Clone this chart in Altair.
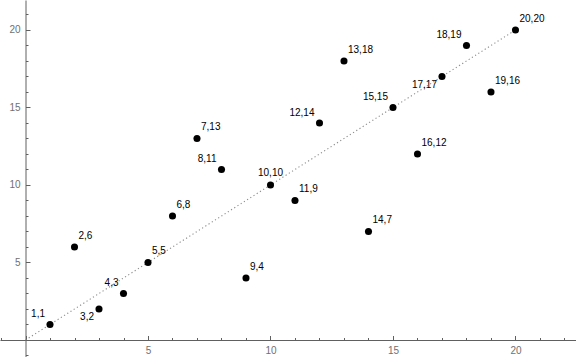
import altair as alt
import pandas as pd

# data
xs = [1, 2, 3, 4, 5, 6, 7, 8, 9, 10, 11, 12, 13, 14, 15, 16, 17, 18, 19, 20]
ys = [1, 6, 2, 3, 5, 8, 13, 11, 4, 10, 9, 14, 18, 7, 15, 12, 17, 19, 16, 20]
fit_x = [0, 20]
fit_y = [0, 20]
x_ticks = list(range(-1, 23))
y_ticks = list(range(-1, 22))

# label placement around each point (layout)
placement = {
    "1,1": "nw", "2,6": "ne", "3,2": "sw", "4,3": "nw", "5,5": "ne",
    "6,8": "ne", "7,13": "ne", "8,11": "nw", "9,4": "ne", "10,10": "n",
    "11,9": "ne", "12,14": "nw", "13,18": "ne", "14,7": "ne", "15,15": "nw",
    "16,12": "ne", "17,17": "sw", "18,19": "nw", "19,16": "ne", "20,20": "ne",
}

df = pd.DataFrame({"x": xs, "y": ys})
df["label"] = [f"{a},{b}" for a, b in zip(xs, ys)]
df["place"] = df["label"].map(placement)
fit = pd.DataFrame({"x": fit_x, "y": fit_y})

W, H = 576, 357
xdom = [-1.041, 22.47]
ydom = [-1.097, 21.935]

tick_cond = {"condition": {"test": "datum.value % 5 === 0", "value": 4.5}, "value": 2.5}
lab_col = "#707070"
ax_col = "#606060"

x_axis = alt.Axis(
    orient="top", offset=-340, values=x_ticks, title=None, grid=False,
    labelExpr="datum.value % 5 === 0 && datum.value > 0 ? datum.label : ''",
    tickSize=tick_cond, tickColor=ax_col, domainColor=ax_col,
    labelBaseline="top", labelPadding=-9.5, labelFont="Liberation Sans",
    labelFontSize=10, labelColor=lab_col, labelOverlap=False, labelFlush=False,
)
y_axis = alt.Axis(
    orient="right", offset=-550.5, values=y_ticks, title=None, grid=False,
    labelExpr="datum.value % 5 === 0 && datum.value > 0 ? datum.label : ''",
    tickSize=tick_cond, tickColor=ax_col, domainColor=ax_col,
    labelAlign="right", labelBaseline="middle", labelPadding=-10,
    labelFont="Liberation Sans", labelFontSize=10, labelColor=lab_col,
    labelOverlap=False, labelFlush=False,
)

X = alt.X("x:Q", scale=alt.Scale(domain=xdom, nice=False, zero=False), axis=x_axis)
Y = alt.Y("y:Q", scale=alt.Scale(domain=ydom, nice=False, zero=False), axis=y_axis)

line = alt.Chart(fit).mark_line(
    color="#8c8c8c", strokeDash=[1.2, 2.6], strokeWidth=1.1
).encode(x=X, y=Y)

points = alt.Chart(df).mark_circle(color="black", opacity=1, size=50).encode(x=X, y=Y)

def labels(place, align, dx, dy):
    return alt.Chart(df).transform_filter(
        alt.datum.place == place
    ).mark_text(
        align=align, baseline="middle", dx=dx, dy=dy,
        font="Liberation Sans", fontSize=10, color="black"
    ).encode(x=X, y=Y, text="label:N")

chart = alt.layer(
    line, points,
    labels("ne", "left", 4, -11),
    labels("nw", "right", -5, -10),
    labels("sw", "right", -5, 8.5),
    labels("n", "center", 0, -12),
).properties(
    width=W, height=H, padding=0, autosize=alt.AutoSizeParams(type="none"),
    background="white",
).configure_view(stroke=None)

chart.save("out.html", embed_options={"renderer": "svg", "actions": False})
